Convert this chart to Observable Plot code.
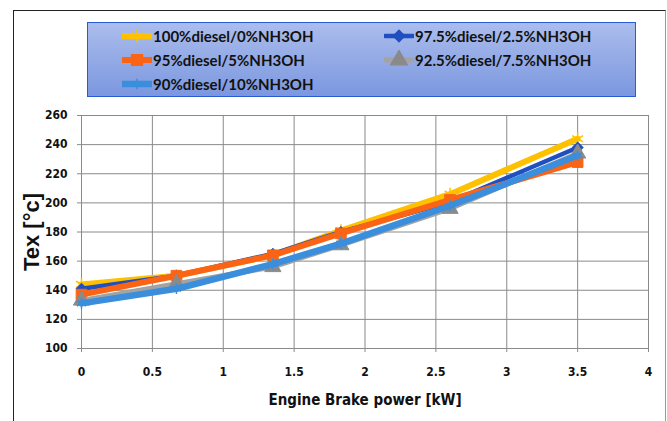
<!DOCTYPE html>
<html>
<head>
<meta charset="utf-8">
<script src="https://cdn.jsdelivr.net/npm/d3@7"></script>
<script src="https://cdn.jsdelivr.net/npm/@observablehq/plot@0.6"></script>
<style>
  body { margin: 0; background: #fff; }
  #wrap { position: relative; width: 667px; height: 421px; overflow: hidden; font-family: "Liberation Sans", Arial, sans-serif; }
  #frame { position: absolute; left: 13px; top: 10px; width: 651px; height: 420px; border-left: 1.5px solid #222; border-top: 1.5px solid #222; border-right: 1px solid #999; }
  #legend { position: absolute; left: 87px; top: 22px; width: 549px; height: 75px; box-sizing: border-box;
            border: 1.5px solid #2a5bd7; background: linear-gradient(#abbdec, #7b97df); }
  .item { position: absolute; display: flex; align-items: center; font: bold 15px Lato, "Liberation Sans", sans-serif; color: #111; white-space: nowrap; }
  .item svg { margin-right: 1px; }
  #plot { position: absolute; left: 0; top: 0; }
  #plot svg text { font-stretch: condensed; }
</style>
</head>
<body>
<div id="wrap">
  <div id="frame"></div>
  <div id="plot"></div>
  <div id="legend"></div>
</div>
<script>
const power = [0, 0.67, 1.35, 1.83, 2.6, 3.5];
const seriesNames = ["100%diesel/0%NH3OH", "97.5%diesel/2.5%NH3OH", "95%diesel/5%NH3OH", "92.5%diesel/7.5%NH3OH", "90%diesel/10%NH3OH"];
const tex100 = [144, 150, 164, 181, 206, 244];
const tex975 = [141, 150, 165, 180, 200.5, 238];
const tex95 = [137, 150, 164, 179, 202, 228];
const tex925 = [133, 144.5, 156, 171, 196, 234];
const tex90 = [131, 141, 158, 172, 198, 232.5];
const xTicks = [0, 0.5, 1, 1.5, 2, 2.5, 3, 3.5, 4];
const yTicks = [100, 120, 140, 160, 180, 200, 220, 240, 260];

const colors = ["#ffc000", "#1f4fc0", "#fb6414", "#a3a3a3", "#3a8edb"];
const widths = [6, 4.5, 6, 5, 6.5];
const symbols = ["asterisk", "diamond2", "square", "triangle", "asterisk"];
const mColors = ["#ffc000", "#1f4fc0", "#fb6414", "#8a8a8a", "#3a8edb"];
const mSizes = [6, 5, 6, 6, 5];
const values = [tex100, tex975, tex95, tex925, tex90];

const data = [];
values.forEach((vals, s) => vals.forEach((v, i) => data.push({series: seriesNames[s], s, x: power[i], y: v})));

const marks = [];
for (let s = 0; s < 5; s++) {
  const d = data.filter(r => r.s === s);
  marks.push(Plot.line(d, {x: "x", y: "y", stroke: colors[s], strokeWidth: widths[s], strokeLinejoin: "round"}));
  marks.push(Plot.dot(d, {x: "x", y: "y", symbol: () => symbols[s], r: mSizes[s],
    fill: (symbols[s] === "asterisk") ? "none" : mColors[s], stroke: mColors[s], strokeWidth: symbols[s] === "asterisk" ? 1.5 : 1}));
}

const chart = Plot.plot({
  width: 667, height: 421,
  marginLeft: 81, marginRight: 19, marginTop: 115, marginBottom: 73,
  style: {fontFamily: "'DejaVu Sans', sans-serif", fontSize: "12px", fontWeight: "bold", color: "#111", background: "transparent"},
  x: {domain: [0, 4], ticks: xTicks, label: null},
  y: {domain: [100, 260], ticks: yTicks, label: null},
  marks: [
    Plot.gridX(xTicks, {stroke: "#8a8a8a", strokeOpacity: 1, strokeWidth: 1}),
    Plot.gridY(yTicks, {stroke: "#8a8a8a", strokeOpacity: 1, strokeWidth: 1}),
    Plot.ruleX([4], {stroke: "#8a8a8a"}),
    Plot.axisX(xTicks, {tickSize: 4, tickPadding: 15, stroke: "#8a8a8a", fill: "#111", label: null, tickFormat: d => String(d)}),
    Plot.axisY(yTicks, {tickSize: 4, tickPadding: 10, stroke: "#8a8a8a", fill: "#111", label: null, tickFormat: d => String(d)}),
    ...marks,
    Plot.text(["Engine Brake power [kW]"], {frameAnchor: "bottom", dy: 56, fontSize: 15, fontWeight: "bold", fill: "#111"}),
    Plot.text(["Tex [°c]"], {frameAnchor: "left", textAnchor: "middle", dx: -50, rotate: -90, fontSize: 22, fontWeight: "bold", fill: "#111", fontFamily: "'Liberation Sans', sans-serif"})
  ]
});
document.getElementById("plot").appendChild(chart);

// Legend
const legend = document.getElementById("legend");
const pos = [[34, 13], [296, 13], [34, 37], [296, 37], [34, 61]];
seriesNames.forEach((name, s) => {
  const it = document.createElement("div");
  it.className = "item";
  it.style.left = pos[s][0] + "px";
  it.style.top = (pos[s][1] - 10) + "px";
  const sw = d3.create("svg").attr("width", 30).attr("height", 20);
  sw.append("line").attr("x1", 1).attr("x2", 29).attr("y1", 10).attr("y2", 10)
    .attr("stroke", colors[s]).attr("stroke-width", widths[s]).attr("stroke-linecap", "round");
  const sym = d3.symbol().type({asterisk: d3.symbolAsterisk, diamond2: d3.symbolDiamond2, square: d3.symbolSquare, triangle: d3.symbolTriangle}[symbols[s]]).size(mSizes[s] * mSizes[s] * 3.2);
  sw.append("path").attr("d", sym()).attr("transform", "translate(15,10)")
    .attr("fill", symbols[s] === "asterisk" ? "none" : mColors[s]).attr("stroke", mColors[s]).attr("stroke-width", 1.5);
  it.appendChild(sw.node());
  const t = document.createElement("span");
  t.textContent = name;
  it.appendChild(t);
  legend.appendChild(it);
});
</script>
</body>
</html>
